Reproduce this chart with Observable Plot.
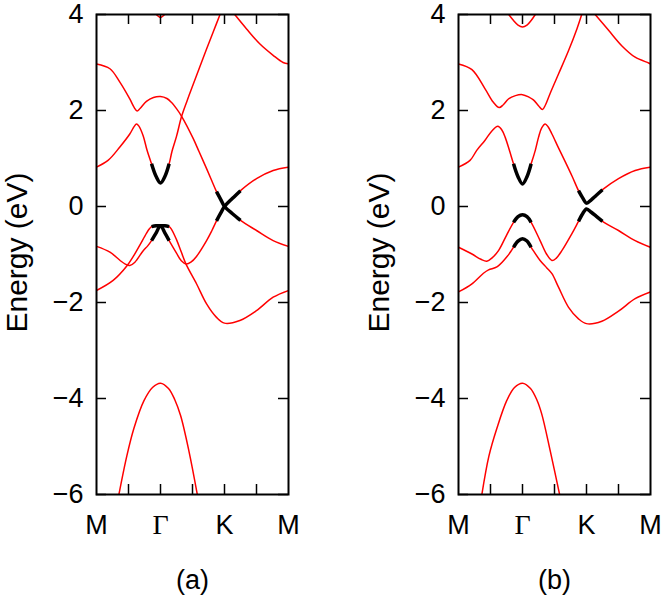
<!DOCTYPE html>
<html><head><meta charset="utf-8">
<script src="https://cdn.jsdelivr.net/npm/d3@7"></script>
<script src="https://cdn.jsdelivr.net/npm/@observablehq/plot@0.6"></script>
<style>
body{margin:0;background:#fff;}
#wrap{display:flex;width:666px;height:598px;}
</style></head><body><div id="wrap"></div>
<script>
// k-path labels (M=0, Γ=2, K=4, M=6 in path units) and ticks
const kLabels = [{u:0,label:"M"},{u:2,label:"Γ"},{u:4,label:"K"},{u:6,label:"M"}];
const kTicks = [1,2,3,4,5];
const energyTicks = [-6,-4,-2,0,2,4];
const panelNames = ["(a)","(b)"];
const yTitle = "Energy (eV)";

// ---- panel (a) bands: [k, E(eV)]
const a_top = [[1.87,4.0],[2.0,3.94],[2.13,4.0]];
const a_B = [[0,2.97],[0.42,2.87],[0.73,2.59],[1.04,2.24],[1.18,2.06],[1.27,1.99],[1.36,2.04],[1.56,2.19],[1.78,2.27],[2.0,2.29],[2.2,2.25],[2.34,2.17],[2.5,2.04],[2.66,1.88],[3.02,1.42],[3.2,1.15],[3.44,0.79],[3.6,0.54],[3.75,0.31],[3.88,0.15],[4.0,0.0],[4.25,-0.15],[4.5,-0.29],[5.0,-0.5],[5.52,-0.71],[6.0,-0.83]];
const a_C = [[0,0.82],[0.36,0.96],[0.73,1.24],[1.04,1.51],[1.18,1.67],[1.25,1.72],[1.32,1.68],[1.46,1.47],[1.58,1.17],[1.72,0.89],[1.86,0.63],[2.0,0.49],[2.14,0.63],[2.27,0.89],[2.36,1.15],[2.5,1.46],[2.66,1.88],[2.84,2.22],[3.02,2.54],[3.33,3.09],[3.65,3.64],[3.86,4.0]];
const a_D = [[4.32,4.0],[4.69,3.70],[5.1,3.39],[5.52,3.15],[5.83,3.0],[6.0,2.97]];
const a_E1 = [[0,-0.83],[0.42,-0.95],[0.73,-1.12],[0.9,-1.2],[1.04,-1.23],[1.2,-1.16],[1.46,-0.92],[1.6,-0.82],[1.72,-0.71],[1.86,-0.555],[2.0,-0.4],[2.14,-0.555],[2.27,-0.71],[2.5,-0.97],[2.65,-1.13],[2.81,-1.2],[2.95,-1.16],[3.125,-1.04],[3.44,-0.71],[3.6,-0.51],[3.75,-0.3],[3.88,-0.14],[4.0,0],[4.25,0.17],[4.5,0.33],[5.0,0.58],[5.52,0.75],[6.0,0.82]];
const a_E2 = [[0,-1.75],[0.52,-1.54],[0.96,-1.23],[1.15,-1.04],[1.35,-0.81],[1.56,-0.56],[1.66,-0.46],[1.72,-0.42],[1.86,-0.40],[2.0,-0.40],[2.14,-0.40],[2.27,-0.42],[2.34,-0.47],[2.5,-0.69],[2.65,-0.95],[2.79,-1.19],[3.125,-1.61],[3.44,-2.03],[3.75,-2.31],[4.0,-2.43],[4.48,-2.375],[5.0,-2.17],[5.52,-1.89],[6.0,-1.75]];
const a_low = [[0.7,-6],[0.95,-5.19],[1.17,-4.62],[1.48,-4.05],[1.75,-3.77],[2.0,-3.68],[2.25,-3.79],[2.45,-4.03],[2.63,-4.36],[2.89,-5.1],[3.15,-6]];
// highlighted (black) spans: [band, kFrom, kTo]
const a_black = [["C",1.72,2.27],["E1",1.72,2.27],["E2",1.72,2.27],["B",3.75,4.5],["E1",3.75,4.5]];

// ---- panel (b) bands
const b_top = [[1.57,4.0],[1.72,3.875],[1.86,3.78],[2.0,3.74],[2.14,3.78],[2.27,3.875],[2.4,4.0]];
const b_B = [[0,2.97],[0.42,2.85],[0.83,2.45],[1.09,2.17],[1.27,2.06],[1.4,2.12],[1.56,2.24],[1.78,2.31],[2.0,2.33],[2.2,2.28],[2.34,2.22],[2.5,2.1],[2.625,2.02],[2.72,2.12],[2.86,2.35],[3.125,2.76],[3.44,3.25],[3.7,3.7],[3.85,4.0]];
const b_D = [[4.27,4.0],[4.69,3.67],[5.1,3.35],[5.52,3.11],[5.94,2.99],[6.0,2.97]];
const b_C = [[0,0.82],[0.36,0.96],[0.57,1.17],[0.83,1.38],[1.05,1.58],[1.23,1.67],[1.35,1.6],[1.46,1.44],[1.6,1.15],[1.72,0.89],[1.86,0.62],[2.0,0.47],[2.14,0.62],[2.27,0.89],[2.4,1.17],[2.5,1.44],[2.6,1.64],[2.71,1.72],[2.8,1.66],[2.92,1.51],[3.125,1.22],[3.33,0.94],[3.55,0.63],[3.75,0.33],[3.88,0.18],[4.0,0.07],[4.15,0.14],[4.3,0.23],[4.5,0.35],[5.0,0.58],[5.52,0.75],[6.0,0.82]];
const b_E1 = [[0,-0.85],[0.42,-0.99],[0.7,-1.1],[0.885,-1.14],[1.05,-1.07],[1.25,-0.92],[1.5,-0.6],[1.72,-0.33],[1.86,-0.21],[2.0,-0.17],[2.14,-0.21],[2.27,-0.33],[2.55,-0.71],[2.75,-0.99],[2.92,-1.125],[3.05,-1.08],[3.23,-0.92],[3.54,-0.57],[3.75,-0.31],[3.88,-0.15],[4.0,-0.05],[4.15,-0.12],[4.3,-0.2],[4.5,-0.31],[5.0,-0.5],[5.52,-0.71],[6.0,-0.85]];
const b_E2 = [[0,-1.78],[0.42,-1.61],[0.78,-1.39],[0.94,-1.32],[1.2,-1.26],[1.46,-1.09],[1.6,-0.97],[1.72,-0.85],[1.86,-0.72],[2.0,-0.67],[2.14,-0.72],[2.27,-0.85],[2.55,-1.125],[2.76,-1.28],[2.92,-1.4],[3.125,-1.68],[3.44,-2.1],[3.75,-2.34],[4.0,-2.44],[4.48,-2.39],[5.0,-2.18],[5.52,-1.92],[6.0,-1.78]];
const b_low = [[0.73,-6],[0.95,-5.2],[1.2,-4.62],[1.51,-4.04],[1.75,-3.77],[2.0,-3.68],[2.25,-3.79],[2.45,-4.03],[2.6,-4.32],[2.87,-5.1],[3.16,-6]];
const b_black = [["C",1.72,2.27],["E1",1.72,2.27],["E2",1.72,2.27],["C",3.75,4.5],["E1",3.75,4.5]];

const bandsA = {top:a_top, B:a_B, C:a_C, D:a_D, E1:a_E1, E2:a_E2, low:a_low};
const bandsB = {top:b_top, B:b_B, C:b_C, D:b_D, E1:b_E1, E2:b_E2, low:b_low};

const fmt = d => d < 0 ? "\u2212" + Math.abs(d) : String(d);
const SANS = "'Liberation Sans', Arial, Helvetica, sans-serif";
const SERIF = "'Liberation Serif', 'Times New Roman', serif";

function rowsOf(bands) {
  return Object.entries(bands).flatMap(([band, pts]) => pts.map(([u, E]) => ({band, u, E})));
}
function blackRows(bands, spans) {
  return spans.flatMap(([band, from, to], i) =>
    bands[band].filter(([u]) => u >= from - 1e-9 && u <= to + 1e-9).map(([u, E]) => ({seg: i, u, E})));
}

function panel(bands, spans, name, ml, mr) {
  const W = 333, H = 598, mt = 14, mb = 104;
  const innerW = W - ml - mr, innerH = H - mt - mb, tick = 10;
  return Plot.plot({
    width: W, height: H, marginLeft: ml, marginRight: mr, marginTop: mt, marginBottom: mb,
    x: {domain: [0, 6], axis: null},
    y: {domain: [-6, 4], axis: null},
    style: {fontFamily: SANS, background: "white", overflow: "visible", color: "black"},
    marks: [
      Plot.line(rowsOf(bands), {x: "u", y: "E", z: "band", stroke: "#f00", strokeWidth: 1.5, curve: "catmull-rom", clip: true}),
      Plot.line(blackRows(bands, spans), {x: "u", y: "E", z: "seg", stroke: "black", strokeWidth: 3.5, curve: "catmull-rom", strokeLinecap: "butt", clip: true}),
      Plot.tickX(kTicks, {x: d => d, insetTop: innerH - tick, stroke: "black", strokeWidth: 1.5}),
      Plot.tickX(kTicks, {x: d => d, insetBottom: innerH - tick, stroke: "black", strokeWidth: 1.5}),
      Plot.tickY(energyTicks, {y: d => d, insetRight: innerW - tick, stroke: "black", strokeWidth: 1.5}),
      Plot.tickY(energyTicks, {y: d => d, insetLeft: innerW - tick, stroke: "black", strokeWidth: 1.5}),
      Plot.frame({stroke: "black", strokeWidth: 2}),
      Plot.text(energyTicks, {y: d => d, text: fmt, frameAnchor: "left", dx: -13, textAnchor: "end", lineAnchor: "middle", fontSize: 27, fill: "black"}),
      Plot.text(kLabels.filter(d => d.label !== "Γ"), {x: "u", text: "label", frameAnchor: "bottom", dy: 39, lineAnchor: "bottom", fontSize: 27, fill: "black"}),
      Plot.text(kLabels.filter(d => d.label === "Γ"), {x: "u", text: "label", frameAnchor: "bottom", dy: 39, lineAnchor: "bottom", fontSize: 28, fontFamily: SERIF, fill: "black"}),
      Plot.text([yTitle], {text: d => d, frameAnchor: "left", dx: -70, dy: -2, rotate: -90, textAnchor: "middle", lineAnchor: "bottom", fontSize: 30, fill: "black"}),
      Plot.text([name], {text: d => d, frameAnchor: "bottom", dy: 94, lineAnchor: "bottom", fontSize: 27, fill: "black"})
    ]
  });
}

const wrap = document.getElementById("wrap");
wrap.appendChild(panel(bandsA, a_black, panelNames[0], 96, 45));
wrap.appendChild(panel(bandsB, b_black, panelNames[1], 125, 16));
</script>
</body></html>
